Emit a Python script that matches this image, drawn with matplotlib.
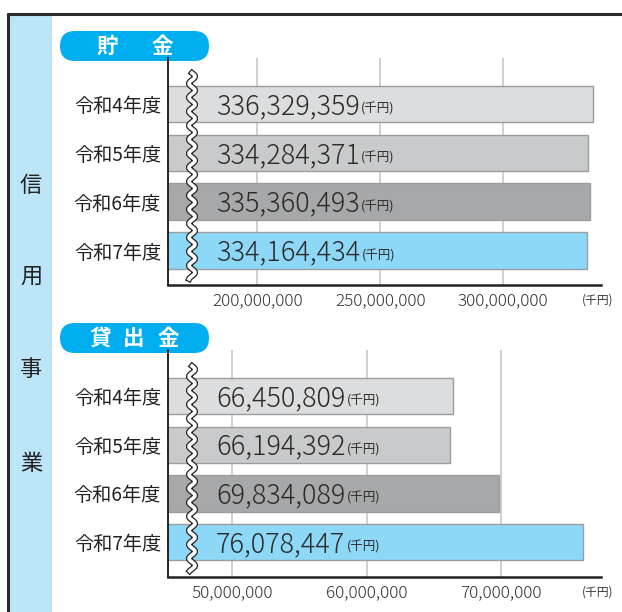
import matplotlib
matplotlib.use("Agg")
import matplotlib.pyplot as plt
import numpy as np
from matplotlib.patches import FancyBboxPatch, Rectangle
import matplotlib.patheffects as pe
import matplotlib.transforms as mtransforms

plt.rcParams['font.family'] = ['Noto Sans CJK JP', 'DejaVu Sans']

# ---- data ----
categories = ['令和4年度', '令和5年度', '令和6年度', '令和7年度']
savings = [336329359, 334284371, 335360493, 334164434]
loans = [66450809, 66194392, 69834089, 76078447]
savings_ticks = [200000000, 250000000, 300000000]
loans_ticks = [50000000, 60000000, 70000000]
bar_colors = ['#DCDDDE', '#C9CACB', '#A7A8AA', '#8ED8F7']
side_title = ['信', '用', '事', '業']

W, H = 622, 612
fig = plt.figure(figsize=(W / 100, H / 100), dpi=100)

# background axes in pixel coordinates
bg = fig.add_axes([0, 0, 1, 1])
bg.set_xlim(0, W)
bg.set_ylim(H, 0)
bg.axis('off')

# frame and side band
bg.add_patch(Rectangle((8.5, 14), 43.5, H, facecolor='#BDE5F8', edgecolor='none'))
bg.plot([8, 8], [13, H], color='#2b2b2b', lw=2.2, solid_capstyle='butt')
bg.plot([7, W], [14, 14], color='#2b2b2b', lw=2.2, solid_capstyle='butt')
for ch, yy in zip(side_title, [186, 276, 370, 463]):
    bg.text(31, yy, ch, ha='center', va='center', fontsize=16, color='#222222')

PILL = '#00AEEF'


def pill_shape(x0, y0, w, h):
    r = h / 2
    bg.add_patch(FancyBboxPatch((x0, y0), w, h,
                                boxstyle=f'round,pad=0,rounding_size={r}',
                                facecolor=PILL, edgecolor='none'))


pill_shape(60, 31, 149, 30)
for ch, xx in zip(['貯', '金'], [107, 162]):
    bg.text(xx, 46.5, ch, ha='center', va='center', fontsize=15.5,
            fontweight='bold', color='white')
pill_shape(60, 323, 149, 30)
for ch, xx in zip(['貸', '出', '金'], [100, 134, 168]):
    bg.text(xx, 338.5, ch, ha='center', va='center', fontsize=15.5,
            fontweight='bold', color='white')


def panel(rect_px, values, ticks, xlim, ylim, wave_px):
    x0, y0, x1, y1 = rect_px
    ax = fig.add_axes([x0 / W, 1 - y1 / H, (x1 - x0) / W, (y1 - y0) / H])
    ax.set_zorder(2)
    ax.patch.set_alpha(0)
    y = np.arange(len(categories))
    ax.barh(y, values, height=0.75, color=bar_colors,
            edgecolor='#9C9D9E', linewidth=1.0, zorder=2)
    ax.set_xlim(*xlim)
    ax.set_ylim(*ylim)
    ax.set_xticks(ticks)
    ax.set_xticklabels([f'{t:,}' for t in ticks], fontsize=12.3, color='#333333',
                       fontweight='light')
    ax.set_yticks(y)
    ax.set_yticklabels(categories, fontsize=13.8, color='#222222')
    ax.tick_params(axis='both', length=0)
    ax.tick_params(axis='x', pad=5)
    ax.tick_params(axis='y', pad=5)
    ax.grid(axis='x', color='#C8C8C8', lw=1.2)
    ax.set_axisbelow(True)
    for s in ['top', 'right']:
        ax.spines[s].set_visible(False)
    ax.spines['left'].set_color('#222222')
    ax.spines['bottom'].set_color('#222222')
    ax.spines['left'].set_linewidth(1.4)
    ax.spines['bottom'].set_linewidth(1.8)
    # value labels
    trans = mtransforms.blended_transform_factory(ax.transAxes, ax.transData)
    for yi, v in zip(y, values):
        t = ax.text((216 - x0) / (x1 - x0), yi + 0.04, f'{v:,}', transform=trans,
                    ha='left', va='center', fontsize=19.5, color='#2a2a2a', zorder=5,
                    fontweight='light')
        ax.annotate('(千円)', xy=(1, 0.16), xycoords=t, xytext=(1, 0),
                    textcoords='offset points', ha='left', va='bottom',
                    fontsize=9, color='#2a2a2a', zorder=5)
    # unit label
    ax.text((598 - x0) / (x1 - x0), -(15 / (y1 - y0)), '(千円)', transform=ax.transAxes,
            ha='center', va='center', fontsize=8.5, color='#333333')
    # wavy break line
    wy0, wy1 = wave_px
    yy = np.linspace(wy0, wy1, 400)
    xx = 192 + 3.0 * np.sin((yy - wy0) / 14.0 * 2 * np.pi)
    ax.plot((xx - x0) / (x1 - x0), (y1 - yy) / (y1 - y0),
            transform=ax.transAxes, color='white', lw=2.6, zorder=6,
            clip_on=False,
            path_effects=[pe.Stroke(linewidth=4.4, foreground='#222222'),
                          pe.Normal()])
    return ax


panel((168, 58, 601, 285), savings, savings_ticks, (163.8e6, 339.7e6),
      (3.7, -0.94), (73, 279))
panel((168, 350, 601, 577), loans, loans_ticks, (45.26e6, 77.4e6),
      (3.72, -0.95), (366, 571))

fig.savefig('out.png', dpi=100)
